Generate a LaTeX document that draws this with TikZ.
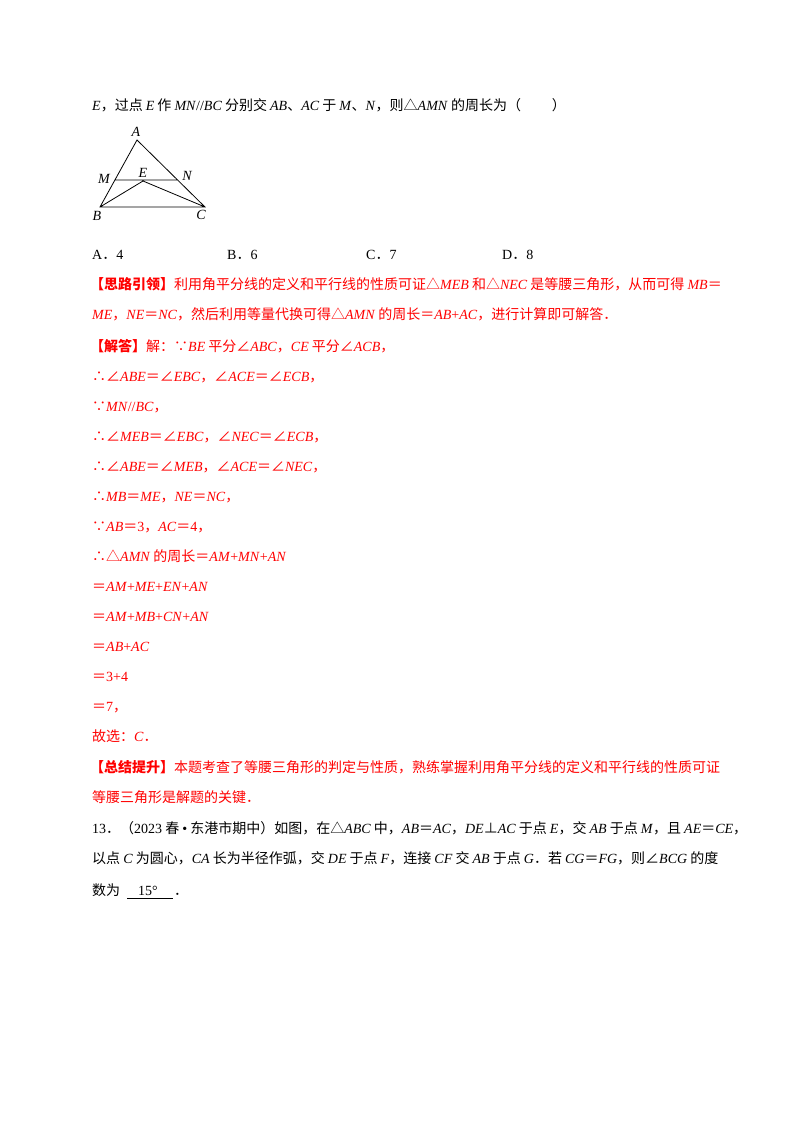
\documentclass[tikz,border=0pt]{standalone}
\usepackage{fontspec}
\setmainfont{Liberation Serif}
\newfontfamily\cjk{Noto Sans CJK SC}
\XeTeXinterchartokenstate=1
\newXeTeXintercharclass\cjkcl
\newXeTeXintercharclass\cjkpu
\count255="3000
\loop \XeTeXcharclass\count255=\cjkpu \ifnum\count255<"303F \advance\count255 1 \repeat
\count255="3040
\loop \XeTeXcharclass\count255=\cjkcl \ifnum\count255<"9FFF \advance\count255 1 \repeat
\count255="FF00
\loop \XeTeXcharclass\count255=\cjkpu \ifnum\count255<"FFEF \advance\count255 1 \repeat
\XeTeXcharclass"2234=\cjkpu \XeTeXcharclass"2235=\cjkpu \XeTeXcharclass"2220=\cjkpu
\XeTeXcharclass"25B3=\cjkpu \XeTeXcharclass"22A5=\cjkpu
\newcommand\gapsp{\hskip 0.22em\relax}
\global\let\beforelat\relax \global\let\afterlat\relax
\newcommand\resetflags{\global\let\beforelat\relax\global\let\afterlat\relax}
\XeTeXinterchartoks 0 \cjkcl = {\gapsp\cjk}
\XeTeXinterchartoks 4095 \cjkcl = {\afterlat\resetflags\cjk}
\XeTeXinterchartoks \cjkcl 0 = {\rmfamily\gapsp}
\XeTeXinterchartoks \cjkcl 4095 = {\rmfamily\global\let\beforelat\gapsp}
\XeTeXinterchartoks 0 \cjkpu = {\cjk}
\XeTeXinterchartoks 4095 \cjkpu = {\resetflags\cjk}
\XeTeXinterchartoks \cjkpu 0 = {\rmfamily}
\XeTeXinterchartoks \cjkpu 4095 = {\rmfamily\resetflags}
\definecolor{rd}{RGB}{255,0,0}
\newcommand{\mi}[1]{\beforelat\resetflags\textit{#1}\global\let\afterlat\gapsp}
\tikzset{tx/.style={anchor=base west,inner sep=0pt,font=\fontsize{14}{14}\selectfont\resetflags},
 rt/.style={tx,text=rd},
 lb/.style={inner sep=0pt,font=\fontsize{14}{14}\selectfont\itshape}}
\begin{document}
\begin{tikzpicture}[x=1pt,y=-1pt]
\useasboundingbox[fill=white] (0,0) rectangle (800,1132);
\node[tx] (l0) at (92,110) {\mi{E}，过点\mi{E}作\mi{MN}//\mi{BC}分别交\mi{AB}、\mi{AC}于\mi{M}、\mi{N}，则△\mi{AMN}的周长为（\hspace{2.2em}）};
% triangle
\coordinate (A) at (137,140); \coordinate (M) at (115,180); \coordinate (N) at (178,180);
\coordinate (E) at (143,181); \coordinate (B) at (100,207); \coordinate (C) at (205,207);
\draw[line width=0.8pt] (A)--(B)--(C)--cycle (M)--(N) (B)--(E)--(C);
\node[lb] (la) at (136,132) {A}; \node[lb] (lm) at (104,179) {M}; \node[lb] (le) at (143,173) {E};
\node[lb] (ln) at (187,176) {N}; \node[lb] (lbb) at (97,216) {B}; \node[lb] (lc) at (201,215) {C};
\node[tx] (o1) at (92,259) {A．4}; \node[tx] (o2) at (227,259) {B．6};
\node[tx] (o3) at (366,259) {C．7}; \node[tx] (o4) at (502,259) {D．8};
\node[rt] (r1) at (90,289) {\textbf{【思路引领】}利用角平分线的定义和平行线的性质可证△\mi{MEB}和△\mi{NEC}是等腰三角形，从而可得\mi{MB}＝};
\node[rt] (r2) at (92,319) {\mi{ME}，\mi{NE}＝\mi{NC}，然后利用等量代换可得△\mi{AMN}的周长＝\mi{AB}+\mi{AC}，进行计算即可解答．};
\node[rt] (r3) at (90,351) {\textbf{【解答】}解：∵\mi{BE}平分∠\mi{ABC}，\mi{CE}平分∠\mi{ACB}，};
\node[rt] (r4) at (92,381) {∴∠\mi{ABE}＝∠\mi{EBC}，∠\mi{ACE}＝∠\mi{ECB}，};
\node[rt] (r5) at (92,411) {∵\mi{MN}//\mi{BC}，};
\node[rt] (r6) at (92,441) {∴∠\mi{MEB}＝∠\mi{EBC}，∠\mi{NEC}＝∠\mi{ECB}，};
\node[rt] (r7) at (92,471) {∴∠\mi{ABE}＝∠\mi{MEB}，∠\mi{ACE}＝∠\mi{NEC}，};
\node[rt] (r8) at (92,501) {∴\mi{MB}＝\mi{ME}，\mi{NE}＝\mi{NC}，};
\node[rt] (r9) at (92,531) {∵\mi{AB}＝3，\mi{AC}＝4，};
\node[rt] (r10) at (92,561) {∴△\mi{AMN}的周长＝\mi{AM}+\mi{MN}+\mi{AN}};
\node[rt] (r11) at (92,591) {＝\mi{AM}+\mi{ME}+\mi{EN}+\mi{AN}};
\node[rt] (r12) at (92,621) {＝\mi{AM}+\mi{MB}+\mi{CN}+\mi{AN}};
\node[rt] (r13) at (92,651) {＝\mi{AB}+\mi{AC}};
\node[rt] (r14) at (92,681) {＝3+4};
\node[rt] (r15) at (92,711) {＝7，};
\node[rt] (r16) at (92,741) {故选：\mi{C}．};
\node[rt] (r17) at (90,772) {\textbf{【总结提升】}本题考查了等腰三角形的判定与性质，熟练掌握利用角平分线的定义和平行线的性质可证};
\node[rt] (r18) at (92,802) {等腰三角形是解题的关键．};
\node[tx] (q1) at (92,833) {13．（2023春•东港市期中）如图，在△\mi{ABC}中，\mi{AB}＝\mi{AC}，\mi{DE}⊥\mi{AC}于点\mi{E}，交\mi{AB}于点\mi{M}，且\mi{AE}＝\mi{CE}，};
\node[tx] (q2) at (92,863) {以点\mi{C}为圆心，\mi{CA}长为半径作弧，交\mi{DE}于点\mi{F}，连接\mi{CF}交\mi{AB}于点\mi{G}．若\mi{CG}＝\mi{FG}，则∠\mi{BCG}的度};
\node[tx] (q3) at (92,895) {数为};
\node[tx] (q4) at (138,895) {15°};
\node[tx] (q5) at (174,895) {．};
\coordinate (u1) at (127,898); \coordinate (u2) at (173,898);
\draw[line width=0.6pt] (u1)--(u2);
\end{tikzpicture}
\end{document}
